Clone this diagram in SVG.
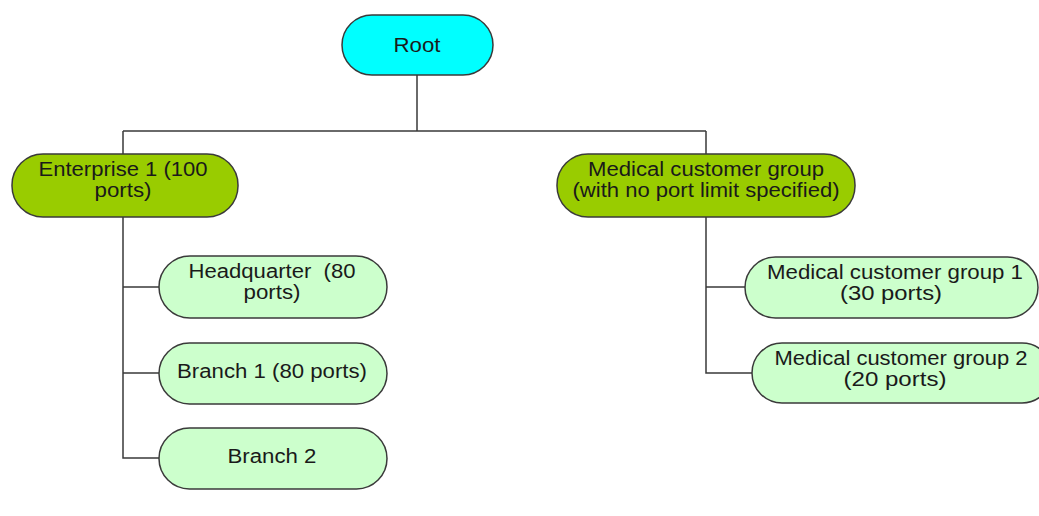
<svg xmlns="http://www.w3.org/2000/svg" width="1039" height="516" viewBox="0 0 1039 516">
<style>
.n{stroke:#3a3a3a;stroke-width:1.5}
.root{fill:#00ffff}
.grp{fill:#99cc00}
.leaf{fill:#ccffcc}
.t{font-family:"Liberation Sans",Arial,sans-serif;font-size:20px;fill:#1a1a1a;text-anchor:middle}
.c{fill:none;stroke:#3a3a3a;stroke-width:1.5}
</style>
<rect width="1039" height="516" fill="#ffffff"/>
<g id="connectors">
<path class="c" d="M417 75V131M123 131H706M123 131V154M706 131V154"/>
<path class="c" d="M123 217V458H159M123 287H159M123 373H159"/>
<path class="c" d="M706 217V373H752M706 287H745"/>
</g>
<g id="root">
<rect class="n root" x="342" y="15" width="151" height="60" rx="30"/>
<text class="t" x="417" y="52" textLength="47" lengthAdjust="spacingAndGlyphs">Root</text>
</g>
<g id="enterprise1">
<rect class="n grp" x="12" y="154" width="226" height="63" rx="31"/>
<text class="t" x="123" y="176" textLength="169" lengthAdjust="spacingAndGlyphs">Enterprise 1 (100</text>
<text class="t" x="123" y="197" textLength="57" lengthAdjust="spacingAndGlyphs">ports)</text>
</g>
<g id="medical">
<rect class="n grp" x="557" y="154" width="298" height="63" rx="31"/>
<text class="t" x="706" y="176" textLength="236" lengthAdjust="spacingAndGlyphs">Medical customer group</text>
<text class="t" x="706" y="197" textLength="267" lengthAdjust="spacingAndGlyphs">(with no port limit specified)</text>
</g>
<g id="headquarter">
<rect class="n leaf" x="159" y="256" width="228" height="62" rx="31"/>
<text class="t" x="272" y="278" textLength="167" lengthAdjust="spacingAndGlyphs" style="white-space:pre" xml:space="preserve">Headquarter  (80</text>
<text class="t" x="272" y="299" textLength="57" lengthAdjust="spacingAndGlyphs">ports)</text>
</g>
<g id="branch1">
<rect class="n leaf" x="159" y="343" width="228" height="61" rx="30.5"/>
<text class="t" x="272" y="378" textLength="190" lengthAdjust="spacingAndGlyphs">Branch 1 (80 ports)</text>
</g>
<g id="branch2">
<rect class="n leaf" x="159" y="428" width="228" height="61" rx="30.5"/>
<text class="t" x="272" y="463" textLength="89" lengthAdjust="spacingAndGlyphs">Branch 2</text>
</g>
<g id="medical1">
<rect class="n leaf" x="745" y="257" width="293" height="61" rx="30.5"/>
<text class="t" x="895" y="279" textLength="256" lengthAdjust="spacingAndGlyphs">Medical customer group 1</text>
<text class="t" x="891" y="300" textLength="102" lengthAdjust="spacingAndGlyphs">(30 ports)</text>
</g>
<g id="medical2">
<rect class="n leaf" x="752" y="343" width="300" height="60" rx="30"/>
<text class="t" x="901" y="365" textLength="253" lengthAdjust="spacingAndGlyphs">Medical customer group 2</text>
<text class="t" x="895" y="386" textLength="103" lengthAdjust="spacingAndGlyphs">(20 ports)</text>
</g>
</svg>
